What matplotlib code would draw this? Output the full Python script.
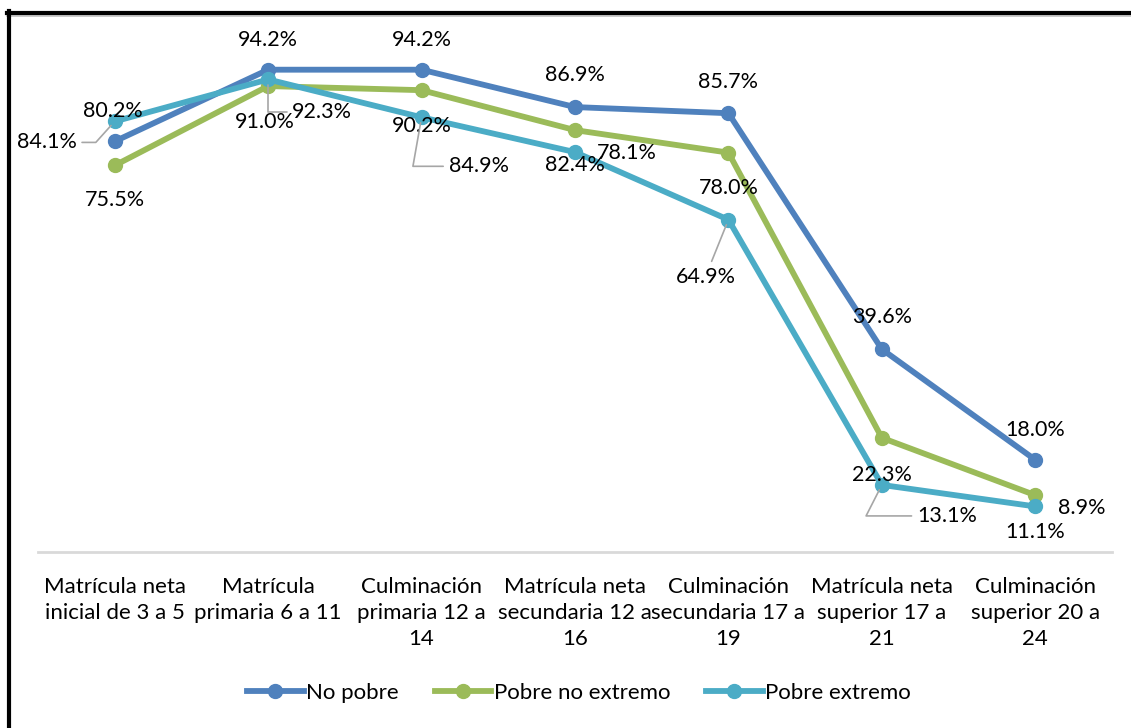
import matplotlib
matplotlib.use("Agg")
import matplotlib.pyplot as plt
from matplotlib.lines import Line2D

categories = [
    "Matrícula neta\ninicial de 3 a 5",
    "Matrícula\nprimaria 6 a 11",
    "Culminación\nprimaria 12 a\n14",
    "Matrícula neta\nsecundaria 12 a\n16",
    "Culminación\nsecundaria 17 a\n19",
    "Matrícula neta\nsuperior 17 a\n21",
    "Culminación\nsuperior 20 a\n24",
]
series_names = ["No pobre", "Pobre no extremo", "Pobre extremo"]
no_pobre = [80.2, 94.2, 94.2, 86.9, 85.7, 39.6, 18.0]
pobre_no_extremo = [75.5, 91.0, 90.2, 82.4, 78.0, 22.3, 11.1]
pobre_extremo = [84.1, 92.3, 84.9, 78.1, 64.9, 13.1, 8.9]

colors = ["#4F81BD", "#9BBB59", "#4BACC6"]
FONT = "Lato"

fig = plt.figure(figsize=(11.31, 7.28), dpi=100)
ax = fig.add_axes([38 / 1131, 1 - 552 / 728, (1112 - 38) / 1131, (552 - 40) / 728])

x = list(range(len(categories)))
all_series = [no_pobre, pobre_no_extremo, pobre_extremo]
for vals, name, c in zip(all_series, series_names, colors):
    ax.plot(x, vals, color=c, lw=4.2, marker="o", ms=10, label=name,
            solid_joinstyle="round", zorder=3)

ax.set_xlim(-0.5, len(categories) - 0.5)
ax.set_ylim(0, 100)
ax.set_yticks([])
for s in ["top", "right", "left"]:
    ax.spines[s].set_visible(False)
ax.spines["bottom"].set_color("#D9D9D9")
ax.spines["bottom"].set_linewidth(2)
ax.set_xticks(x)
ax.set_xticklabels(categories, fontsize=16, family=FONT, linespacing=1.38)
ax.tick_params(axis="x", length=0, pad=18)

# label offsets in pixels (dx, dy)
blue_off = [(-2, 30), (0, 30), (0, 30), (0, 32), (0, 31), (0, 32), (0, 30)]
green_off = [(0, -35), (-3, -36), (0, -36), (0, -35), (0, -35), (0, -37), (0, -37)]
cyan_off = [(-68, -21), (54, -33), (57, -49), (52, -1), (-23, -57), (65, -31), (46, -2)]
cyan_conn = ["angle,angleA=0,angleB=48,rad=0", "angle,angleA=0,angleB=90,rad=0",
             "angle,angleA=0,angleB=80,rad=0", None, "arc3,rad=0",
             "angle,angleA=0,angleB=63,rad=0", None]

def fmt(v):
    return f"{v:.1f}%"

LBL = 15.5
for vals, offs in [(no_pobre, blue_off), (pobre_no_extremo, green_off)]:
    for i, v in enumerate(vals):
        ax.annotate(fmt(v), (i, v), xytext=offs[i], textcoords="offset pixels",
                    ha="center", va="center", fontsize=LBL, family=FONT,
                    color="#000000", zorder=5)

for i, v in enumerate(pobre_extremo):
    kw = {}
    if cyan_conn[i] is not None:
        kw["arrowprops"] = dict(arrowstyle="-", color="#A6A6A6", lw=1.2,
                                connectionstyle=cyan_conn[i],
                                shrinkA=0, shrinkB=4)
    ax.annotate(fmt(v), (i, v), xytext=cyan_off[i], textcoords="offset pixels",
                ha="center", va="center", fontsize=LBL, family=FONT,
                color="#000000", zorder=5,
                bbox=dict(boxstyle="square,pad=0.25", fc="none", ec="none"), **kw)

leg = fig.legend(loc="center", bbox_to_anchor=(579 / 1131, 1 - 693 / 728), ncol=3,
                 frameon=False, prop={"family": FONT, "size": 16},
                 handlelength=2.55, handletextpad=0.12, columnspacing=1.6)

# figure border (top & left thick black, light shadow)
fig.add_artist(Line2D([7 / 1131, 1], [1 - 15.5 / 728, 1 - 15.5 / 728],
                      transform=fig.transFigure, color="#C0C0C0", lw=1.2))
fig.add_artist(Line2D([7 / 1131, 1], [1 - 12.5 / 728, 1 - 12.5 / 728],
                      transform=fig.transFigure, color="black", lw=3))
fig.add_artist(Line2D([9 / 1131, 9 / 1131], [0, 1 - 11 / 728],
                      transform=fig.transFigure, color="black", lw=3))

fig.savefig("out.png", dpi=100, facecolor="white")
